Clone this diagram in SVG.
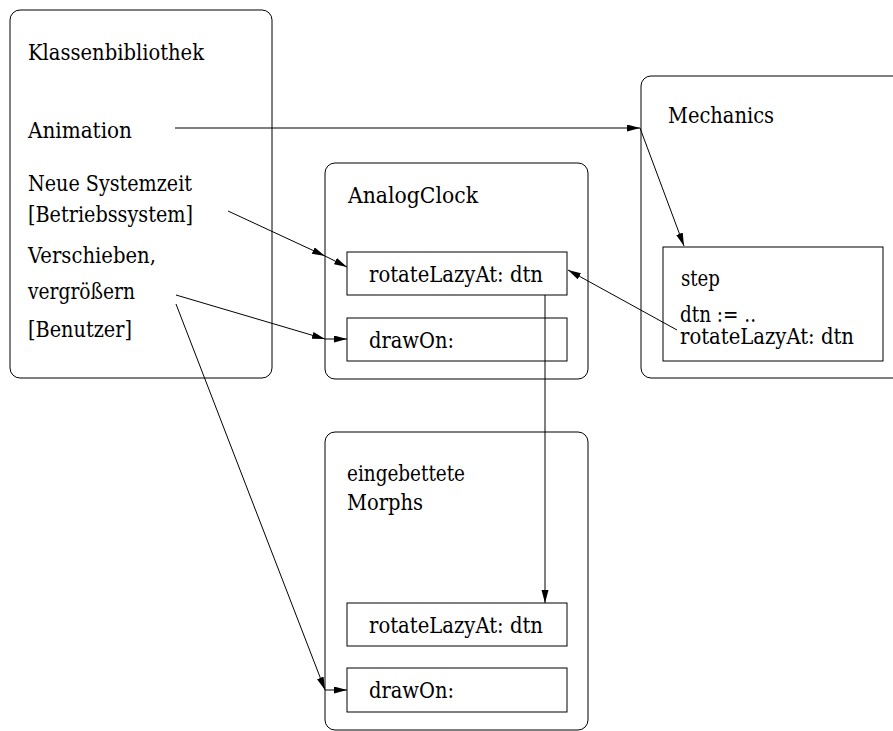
<svg xmlns="http://www.w3.org/2000/svg" width="893" height="731" viewBox="0 0 893 731">
<defs>
<marker id="ah" markerUnits="userSpaceOnUse" markerWidth="14" markerHeight="8" refX="13" refY="3.5" orient="auto">
<path d="M0,0 L13,3.5 L0,7 z" fill="#000"/>
</marker>
<style>
.outer{fill:#fff;stroke:#000;stroke-width:1}
.inner{fill:#fff;stroke:#000;stroke-width:1}
text{font-family:'DejaVu Serif','Liberation Serif','Times New Roman',serif;font-size:22px;fill:#000}
.c{fill:none;stroke:#000;stroke-width:1;marker-end:url(#ah)}
</style>
</defs>
<rect width="893" height="731" fill="#fff"/>
<g id="klassenbibliothek">
<rect class="outer" x="10" y="10" width="262" height="368" rx="10"/>
<text x="28" y="60" textLength="176" lengthAdjust="spacingAndGlyphs">Klassenbibliothek</text>
<text x="28" y="138" textLength="104" lengthAdjust="spacingAndGlyphs">Animation</text>
<text x="28" y="191" textLength="164" lengthAdjust="spacingAndGlyphs">Neue Systemzeit</text>
<text x="28" y="222" textLength="165" lengthAdjust="spacingAndGlyphs">[Betriebssystem]</text>
<text x="28" y="263" textLength="128" lengthAdjust="spacingAndGlyphs">Verschieben,</text>
<text x="28" y="299" textLength="107" lengthAdjust="spacingAndGlyphs">vergrößern</text>
<text x="28" y="337" textLength="104" lengthAdjust="spacingAndGlyphs">[Benutzer]</text>
</g>
<g id="analogclock">
<rect class="outer" x="325" y="163" width="263" height="216" rx="10"/>
<text x="348" y="203" textLength="130" lengthAdjust="spacingAndGlyphs">AnalogClock</text>
<g id="ac-rotate">
<rect class="inner" x="347" y="252" width="220" height="43"/>
<text x="369" y="282" textLength="174" lengthAdjust="spacingAndGlyphs">rotateLazyAt: dtn</text>
</g>
<g id="ac-draw">
<rect class="inner" x="347" y="318" width="220" height="43"/>
<text x="369" y="348" textLength="85" lengthAdjust="spacingAndGlyphs">drawOn:</text>
</g>
</g>
<g id="mechanics">
<rect class="outer" x="641" y="76" width="270" height="302" rx="10"/>
<text x="668" y="123" textLength="106" lengthAdjust="spacingAndGlyphs">Mechanics</text>
<g id="step">
<rect class="inner" x="663" y="247" width="220" height="114"/>
<text x="681" y="286" textLength="39" lengthAdjust="spacingAndGlyphs">step</text>
<text x="680" y="322" textLength="76" lengthAdjust="spacingAndGlyphs">dtn := ..</text>
<text x="680" y="344" textLength="174" lengthAdjust="spacingAndGlyphs">rotateLazyAt: dtn</text>
</g>
</g>
<g id="morphs">
<rect class="outer" x="325" y="432" width="263" height="298" rx="10"/>
<text x="347" y="481" textLength="118" lengthAdjust="spacingAndGlyphs">eingebettete</text>
<text x="347" y="510" textLength="76" lengthAdjust="spacingAndGlyphs">Morphs</text>
<g id="m-rotate">
<rect class="inner" x="347" y="603" width="220" height="43"/>
<text x="369" y="633" textLength="174" lengthAdjust="spacingAndGlyphs">rotateLazyAt: dtn</text>
</g>
<g id="m-draw">
<rect class="inner" x="347" y="668" width="220" height="44"/>
<text x="369" y="698" textLength="85" lengthAdjust="spacingAndGlyphs">drawOn:</text>
</g>
</g>
<g id="connectors">
<path class="c" d="M175,128 L640,128"/>
<path class="c" d="M640,128 L684,246"/>
<path class="c" d="M228,211 L325,256"/>
<path class="c" d="M325,256 L347,267"/>
<path class="c" d="M176,295 L325,339"/>
<path class="c" d="M325,339 L347,339"/>
<path class="c" d="M176,304 L325,690"/>
<path class="c" d="M325,690 L347,690"/>
<path class="c" d="M545,295 L545,603"/>
<path class="c" d="M677,330 L568,270"/>
</g>
</svg>
